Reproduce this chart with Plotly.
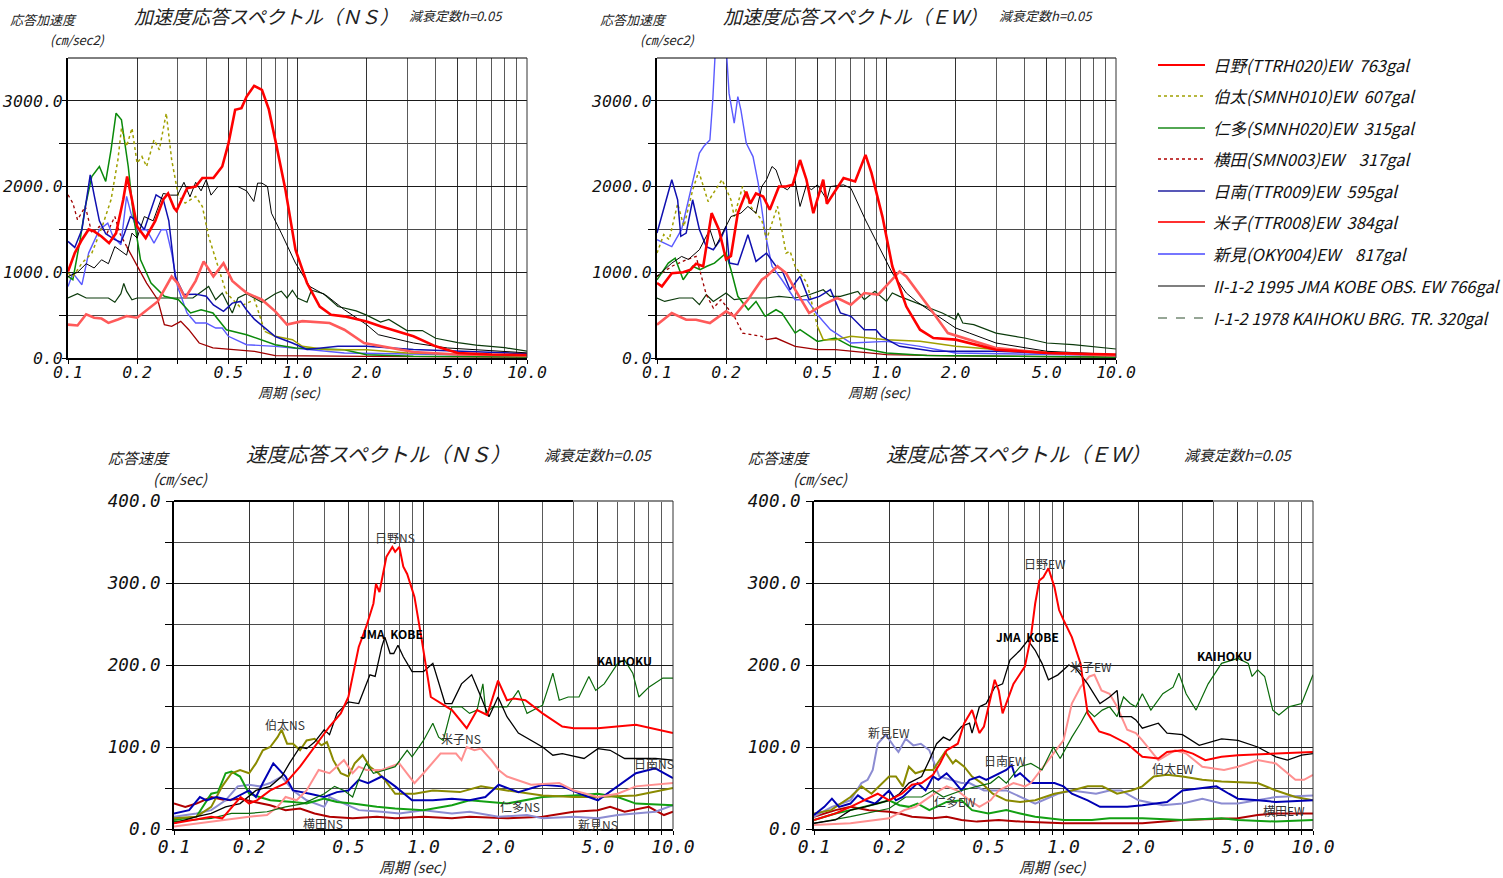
import math
import plotly.graph_objects as go

# ---------------------------------------------------------------------------
# Response spectra (h = 0.05).  Period T [sec] and response values.
# ---------------------------------------------------------------------------

# ---- Acceleration response spectra, NS (cm/sec2) ----
hino_ns_acc_T = [0.1, 0.107, 0.115, 0.123, 0.13, 0.14, 0.151, 0.162, 0.174, 0.181, 0.19, 0.2, 0.218, 0.24, 0.26, 0.273, 0.29, 0.297, 0.33, 0.36, 0.385, 0.43, 0.47, 0.5, 0.535, 0.57, 0.6, 0.647, 0.7, 0.75, 0.8, 0.85, 0.886, 0.98, 1.1, 1.25, 1.4, 1.6, 2.0, 2.3, 3.2, 4.0, 5.0, 7.0, 10]
hino_ns_acc = [1010, 1224, 1380, 1500, 1477, 1418, 1340, 1457, 1846, 2118, 1846, 1535, 1400, 1600, 1850, 1920, 1750, 1717, 1980, 2000, 2100, 2100, 2234, 2500, 2895, 2915, 3050, 3175, 3128, 2900, 2545, 2200, 1962, 1263, 875, 600, 505, 486, 427, 370, 253, 136, 58, 40, 35]
hakuta_ns_acc_T = [0.1, 0.105, 0.115, 0.127, 0.141, 0.154, 0.165, 0.171, 0.18, 0.19, 0.2, 0.21, 0.22, 0.237, 0.25, 0.268, 0.283, 0.303, 0.324, 0.36, 0.385, 0.41, 0.46, 0.49, 0.56, 0.65, 0.72, 0.8, 0.95, 1.05, 1.35, 2.0, 3.0, 10]
hakuta_ns_acc = [990, 950, 1107, 1224, 1535, 1846, 2312, 2680, 2468, 2680, 2273, 2350, 2234, 2545, 2429, 2856, 2312, 1885, 1807, 1885, 1768, 1418, 990, 758, 600, 680, 310, 253, 214, 136, 97, 97, 58, 27]
nita_ns_acc_T = [0.1, 0.105, 0.113, 0.119, 0.127, 0.137, 0.146, 0.154, 0.162, 0.171, 0.183, 0.193, 0.207, 0.23, 0.263, 0.303, 0.342, 0.38, 0.428, 0.49, 0.6, 0.8, 0.98, 1.6, 2.0, 3.2, 10]
nita_ns_acc = [952, 913, 1380, 1768, 2118, 2234, 2060, 2429, 2856, 2778, 2234, 1652, 1146, 874, 720, 680, 525, 563, 525, 330, 272, 155, 117, 97, 39, 20, 12]
yokota_ns_acc_T = [0.1, 0.105, 0.11, 0.119, 0.127, 0.137, 0.148, 0.16, 0.168, 0.18, 0.2, 0.22, 0.246, 0.263, 0.283, 0.31, 0.336, 0.373, 0.428, 0.53, 0.65, 0.8, 1.0, 2.0, 10]
yokota_ns_acc = [1904, 1807, 1613, 1768, 1457, 1535, 1457, 1651, 1457, 1302, 1068, 874, 680, 389, 369, 427, 330, 175, 117, 97, 78, 27, 27, 20, 10]
nichinan_ns_acc_T = [0.1, 0.107, 0.115, 0.125, 0.13, 0.137, 0.146, 0.16, 0.17, 0.176, 0.187, 0.2, 0.215, 0.228, 0.242, 0.26, 0.275, 0.293, 0.32, 0.36, 0.4, 0.43, 0.476, 0.52, 0.565, 0.6, 0.65, 0.8, 0.95, 1.1, 1.5, 2.0, 3.2, 10]
nichinan_ns_acc = [1360, 1290, 1500, 2137, 1900, 1600, 1450, 1380, 1350, 1450, 1650, 1600, 1500, 1700, 1904, 1850, 1600, 950, 740, 745, 720, 620, 545, 640, 660, 560, 450, 250, 175, 100, 136, 136, 100, 50]
yonago_ns_acc_T = [0.1, 0.11, 0.12, 0.13, 0.14, 0.15, 0.165, 0.18, 0.2, 0.22, 0.246, 0.283, 0.3, 0.324, 0.36, 0.39, 0.43, 0.476, 0.52, 0.565, 0.6, 0.7, 0.8, 0.9, 1.05, 1.38, 1.6, 1.95, 2.5, 3.2, 5.0, 10]
yonago_ns_acc = [390, 380, 510, 470, 460, 410, 450, 490, 470, 560, 660, 950, 874, 700, 900, 1127, 950, 1107, 900, 816, 760, 680, 544, 390, 430, 408, 330, 175, 120, 70, 40, 30]
niimi_ns_acc_T = [0.1, 0.105, 0.115, 0.123, 0.137, 0.149, 0.157, 0.17, 0.18, 0.188, 0.2, 0.22, 0.237, 0.255, 0.268, 0.283, 0.3, 0.33, 0.36, 0.4, 0.44, 0.47, 0.5, 0.6, 0.8, 1.1, 1.6, 10]
niimi_ns_acc = [835, 990, 855, 1224, 1496, 1574, 1418, 1321, 1885, 1690, 1496, 1496, 1340, 1496, 1496, 1224, 835, 525, 408, 408, 350, 350, 253, 155, 136, 97, 58, 27]
jma_ns_acc_T = [0.1, 0.11, 0.12, 0.13, 0.14, 0.15, 0.16, 0.17, 0.18, 0.19, 0.2, 0.215, 0.235, 0.26, 0.28, 0.3, 0.32, 0.34, 0.36, 0.38, 0.4, 0.42, 0.45, 0.5, 0.55, 0.6, 0.645, 0.67, 0.7, 0.74, 0.77, 0.85, 0.98, 1.13, 1.35, 1.6, 2.0, 2.25, 3.2, 4.5, 10]
jma_ns_acc = [950, 1000, 1100, 1050, 1146, 1100, 1300, 1250, 1200, 1457, 1400, 1650, 1600, 1920, 1900, 1900, 2050, 1880, 2050, 1950, 2080, 1900, 2000, 2000, 2000, 1950, 1826, 2040, 2040, 2000, 1690, 1457, 1107, 835, 720, 563, 389, 272, 175, 117, 60]
kaihoku_ns_acc_T = [0.1, 0.11, 0.12, 0.135, 0.15, 0.16, 0.17, 0.175, 0.18, 0.19, 0.2, 0.25, 0.3, 0.35, 0.41, 0.44, 0.47, 0.52, 0.55, 0.6, 0.7, 0.8, 0.85, 0.9, 0.95, 1.0, 1.1, 1.15, 1.3, 1.5, 1.8, 2.0, 2.3, 2.5, 3.0, 3.5, 4.0, 5.0, 6.0, 8.0, 10]
kaihoku_ns_acc = [700, 750, 700, 700, 700, 650, 750, 870, 780, 680, 700, 700, 700, 700, 835, 680, 758, 525, 700, 750, 650, 750, 780, 700, 790, 700, 650, 790, 750, 600, 550, 500, 420, 450, 320, 320, 230, 180, 150, 120, 80]

# ---- Acceleration response spectra, EW (cm/sec2) ----
hino_ew_acc_T = [0.1, 0.105, 0.116, 0.13, 0.14, 0.148, 0.159, 0.173, 0.186, 0.2, 0.21, 0.225, 0.245, 0.255, 0.27, 0.29, 0.31, 0.34, 0.365, 0.39, 0.42, 0.448, 0.48, 0.53, 0.55, 0.61, 0.65, 0.73, 0.81, 0.86, 0.96, 1.06, 1.22, 1.4, 1.6, 2.0, 3.0, 5.0, 10]
hino_ew_acc = [875, 835, 990, 1000, 1030, 1100, 1070, 1690, 1500, 1150, 1190, 1690, 1940, 1800, 1920, 1885, 1730, 2000, 2000, 2020, 2310, 2080, 1690, 2080, 1800, 1980, 2100, 2060, 2370, 2160, 1650, 1070, 600, 330, 233, 214, 97, 58, 40]
hakuta_ew_acc_T = [0.1, 0.107, 0.113, 0.123, 0.131, 0.143, 0.152, 0.167, 0.192, 0.21, 0.217, 0.236, 0.255, 0.286, 0.3, 0.335, 0.365, 0.38, 0.4, 0.45, 0.5, 0.53, 0.6, 0.7, 1.0, 1.4, 2.0, 3.0, 10]
hakuta_ew_acc = [1224, 1440, 1380, 1800, 1535, 1960, 2176, 1826, 2080, 1846, 1650, 2000, 1770, 1610, 1380, 1770, 1224, 1245, 1070, 875, 370, 214, 214, 253, 214, 195, 136, 100, 30]
nita_ew_acc_T = [0.1, 0.112, 0.12, 0.13, 0.143, 0.154, 0.165, 0.178, 0.2, 0.21, 0.225, 0.25, 0.27, 0.296, 0.33, 0.35, 0.4, 0.42, 0.5, 0.6, 0.7, 1.0, 1.5, 10]
nita_ew_acc = [913, 1107, 1165, 913, 1070, 1030, 1070, 1107, 1224, 1030, 720, 563, 660, 486, 563, 525, 291, 330, 194, 233, 136, 58, 30, 10]
yokota_ew_acc_T = [0.1, 0.116, 0.134, 0.148, 0.164, 0.176, 0.19, 0.217, 0.236, 0.286, 0.3, 0.33, 0.4, 0.5, 0.6, 1.0, 2.0, 10]
yokota_ew_acc = [952, 1070, 1146, 1185, 738, 583, 680, 486, 291, 253, 214, 233, 136, 97, 97, 39, 25, 10]
nichinan_ew_acc_T = [0.1, 0.108, 0.116, 0.123, 0.127, 0.134, 0.143, 0.153, 0.164, 0.176, 0.189, 0.2, 0.207, 0.225, 0.249, 0.27, 0.3, 0.33, 0.35, 0.38, 0.42, 0.46, 0.51, 0.57, 0.63, 0.7, 0.8, 0.9, 0.95, 1.14, 1.6, 3.0, 10]
nichinan_ew_acc = [1457, 1770, 2080, 1846, 1420, 1457, 1846, 1500, 1300, 1263, 1380, 1535, 1107, 1088, 1438, 1127, 1224, 1070, 1030, 797, 952, 680, 719, 797, 525, 486, 330, 330, 253, 136, 78, 78, 30]
yonago_ew_acc_T = [0.1, 0.116, 0.134, 0.148, 0.17, 0.2, 0.217, 0.249, 0.286, 0.3, 0.335, 0.365, 0.4, 0.46, 0.53, 0.61, 0.7, 0.8, 0.92, 1.03, 1.14, 1.22, 1.35, 1.6, 1.85, 2.3, 3.0, 5.0, 10]
yonago_ew_acc = [389, 525, 447, 447, 408, 544, 486, 680, 913, 952, 1070, 990, 797, 525, 622, 700, 622, 758, 738, 875, 1010, 952, 797, 525, 291, 214, 117, 58, 30]
niimi_ew_acc_T = [0.1, 0.116, 0.128, 0.143, 0.153, 0.16, 0.17, 0.175, 0.18, 0.2, 0.206, 0.217, 0.225, 0.232, 0.245, 0.262, 0.276, 0.296, 0.317, 0.35, 0.4, 0.45, 0.5, 0.57, 0.7, 1.0, 1.4, 2.0, 10]
niimi_ew_acc = [1380, 1300, 1500, 2040, 2390, 2470, 2545, 3010, 3650, 3650, 3090, 2740, 3050, 2895, 2506, 2350, 2040, 1457, 1070, 913, 680, 680, 505, 330, 175, 194, 136, 58, 30]
jma_ew_acc_T = [0.1, 0.116, 0.128, 0.137, 0.153, 0.17, 0.18, 0.2, 0.21, 0.232, 0.249, 0.27, 0.286, 0.3, 0.317, 0.33, 0.35, 0.37, 0.4, 0.42, 0.448, 0.47, 0.5, 0.55, 0.57, 0.65, 0.7, 0.81, 0.96, 1.06, 1.22, 1.35, 1.6, 2.0, 2.3, 3.0, 5.0, 10]
jma_ew_acc = [952, 1107, 1185, 1150, 1263, 1500, 1300, 1535, 1650, 1690, 1768, 1690, 2000, 2080, 2234, 2195, 2000, 1962, 2060, 1768, 2020, 1962, 2020, 1846, 2000, 2020, 1980, 1610, 1224, 990, 758, 660, 525, 350, 290, 175, 78, 40]
kaihoku_ew_acc_T = [0.1, 0.108, 0.125, 0.143, 0.153, 0.164, 0.176, 0.2, 0.217, 0.249, 0.3, 0.34, 0.4, 0.46, 0.53, 0.57, 0.63, 0.75, 0.8, 0.89, 1.0, 1.06, 1.14, 1.3, 1.5, 1.75, 2.0, 2.05, 2.15, 2.4, 3.0, 4.0, 5.0, 6.5, 10]
kaihoku_ew_acc = [700, 660, 700, 700, 622, 738, 660, 758, 680, 700, 700, 719, 700, 738, 797, 719, 719, 777, 680, 777, 660, 758, 719, 660, 602, 525, 447, 525, 408, 389, 291, 233, 175, 155, 105]

# ---- Velocity response spectra, NS (cm/sec) ----
hino_ns_vel_T = [0.1, 0.141, 0.156, 0.185, 0.2, 0.215, 0.243, 0.28, 0.32, 0.366, 0.42, 0.466, 0.5, 0.55, 0.59, 0.63, 0.645, 0.666, 0.71, 0.75, 0.77, 0.8, 0.83, 0.86, 0.92, 0.98, 1.07, 1.3, 1.49, 1.64, 1.8, 1.99, 2.16, 2.3, 2.56, 3.0, 3.6, 4.0, 5.0, 7.1, 10]
hino_ns_vel = [7, 15, 13, 39, 31, 35, 47, 56, 76, 100, 125, 141, 161, 222, 247, 275, 299, 289, 332, 344, 338, 344, 320, 311, 283, 234, 161, 145, 123, 145, 139, 181, 157, 159, 157, 141, 125, 123, 123, 127, 117]
hakuta_ns_vel_T = [0.1, 0.123, 0.141, 0.156, 0.17, 0.184, 0.2, 0.213, 0.227, 0.243, 0.26, 0.27, 0.284, 0.3, 0.32, 0.34, 0.366, 0.39, 0.41, 0.435, 0.466, 0.5, 0.53, 0.57, 0.61, 0.66, 0.7, 0.77, 0.92, 1.09, 1.4, 1.7, 2.16, 3.0, 4.0, 5.0, 7.1, 10]
hakuta_ns_vel = [13, 15, 27, 52, 68, 72, 68, 80, 96, 100, 112, 121, 104, 104, 96, 108, 110, 102, 106, 84, 68, 64, 80, 90, 76, 68, 60, 43, 43, 47, 45, 52, 47, 41, 39, 39, 41, 50]
nita_ns_vel_T = [0.1, 0.123, 0.141, 0.15, 0.161, 0.17, 0.184, 0.2, 0.22, 0.243, 0.3, 0.34, 0.4, 0.45, 0.52, 0.65, 0.77, 1.0, 1.3, 1.53, 2.16, 3.0, 4.0, 5.0, 6.0, 7.1, 10]
nita_ns_vel = [11, 15, 43, 45, 68, 70, 64, 43, 39, 35, 33, 31, 37, 33, 31, 27, 25, 23, 29, 35, 31, 39, 41, 43, 39, 31, 29]
yokota_ns_vel_T = [0.1, 0.111, 0.123, 0.141, 0.161, 0.184, 0.21, 0.243, 0.28, 0.32, 0.366, 0.42, 0.52, 0.65, 0.77, 1.0, 1.3, 1.53, 2.16, 3.0, 4.0, 5.0, 5.6, 6.4, 8.0, 9.2, 10]
yokota_ns_vel = [31, 27, 31, 39, 35, 37, 33, 29, 23, 25, 19, 15, 13, 15, 13, 15, 13, 15, 13, 15, 21, 23, 27, 21, 27, 17, 21]
nichinan_ns_vel_T = [0.1, 0.115, 0.127, 0.135, 0.148, 0.168, 0.2, 0.213, 0.227, 0.25, 0.28, 0.3, 0.35, 0.4, 0.45, 0.5, 0.55, 0.6, 0.68, 0.77, 0.9, 1.09, 1.3, 1.53, 1.77, 2.0, 2.4, 3.0, 3.6, 4.4, 5.0, 6.0, 7.1, 8.5, 10]
nichinan_ns_vel = [19, 23, 39, 35, 39, 35, 47, 39, 56, 80, 64, 47, 43, 39, 45, 47, 60, 56, 64, 52, 35, 35, 37, 35, 39, 54, 45, 54, 52, 41, 35, 52, 68, 74, 62]
yonago_ns_vel_T = [0.1, 0.141, 0.2, 0.236, 0.26, 0.28, 0.31, 0.34, 0.38, 0.42, 0.45, 0.48, 0.52, 0.55, 0.59, 0.68, 0.8, 0.92, 1.0, 1.17, 1.35, 1.42, 1.49, 1.6, 1.7, 1.87, 2.0, 2.16, 2.7, 3.5, 4.0, 5.0, 6.0, 7.1, 10]
yonago_ns_vel = [3, 9, 15, 17, 27, 39, 35, 47, 72, 68, 76, 84, 68, 76, 72, 72, 80, 56, 68, 92, 92, 84, 100, 96, 98, 84, 72, 64, 54, 56, 47, 39, 43, 52, 56]
niimi_ns_vel_T = [0.1, 0.123, 0.141, 0.161, 0.18, 0.2, 0.22, 0.243, 0.27, 0.3, 0.34, 0.4, 0.42, 0.48, 0.55, 0.68, 0.8, 1.0, 1.3, 1.53, 2.0, 2.6, 3.0, 4.0, 5.0, 6.0, 8.5, 10]
niimi_ns_vel = [15, 19, 23, 35, 52, 54, 52, 56, 64, 47, 35, 27, 39, 31, 23, 21, 19, 23, 19, 21, 15, 17, 13, 15, 13, 17, 21, 29]
jma_ns_vel_T = [0.1, 0.123, 0.141, 0.161, 0.184, 0.213, 0.243, 0.27, 0.29, 0.32, 0.34, 0.366, 0.4, 0.42, 0.45, 0.5, 0.55, 0.61, 0.64, 0.68, 0.7, 0.735, 0.76, 0.79, 0.83, 0.9, 1.0, 1.09, 1.22, 1.3, 1.42, 1.56, 1.7, 1.83, 1.99, 2.16, 2.4, 3.0, 3.3, 3.6, 4.4, 5.0, 5.6, 6.4, 8.5, 10]
jma_ns_vel = [7, 15, 19, 27, 31, 47, 52, 64, 80, 100, 98, 106, 121, 115, 141, 155, 153, 188, 186, 222, 234, 214, 214, 224, 210, 192, 192, 202, 153, 153, 177, 188, 161, 137, 161, 137, 117, 100, 90, 92, 86, 98, 96, 86, 86, 84]
kaihoku_ns_vel_T = [0.1, 0.141, 0.17, 0.2, 0.236, 0.28, 0.33, 0.4, 0.44, 0.48, 0.52, 0.55, 0.59, 0.63, 0.7, 0.77, 0.86, 0.9, 1.0, 1.09, 1.15, 1.2, 1.3, 1.42, 1.53, 1.64, 1.73, 1.78, 1.9, 2.16, 2.4, 2.6, 3.0, 3.3, 3.5, 3.8, 4.2, 4.6, 4.9, 5.3, 6.0, 6.4, 6.9, 7.3, 8.0, 9.1, 10]
kaihoku_ns_vel = [9, 13, 19, 19, 21, 27, 31, 43, 52, 47, 39, 60, 80, 68, 72, 76, 96, 88, 108, 129, 112, 108, 149, 149, 141, 145, 177, 141, 149, 149, 169, 141, 151, 190, 157, 161, 161, 186, 169, 177, 202, 206, 190, 161, 173, 184, 184]

# ---- Velocity response spectra, EW (cm/sec) ----
hino_ew_vel_T = [0.1, 0.122, 0.14, 0.16, 0.18, 0.2, 0.225, 0.247, 0.27, 0.3, 0.32, 0.34, 0.377, 0.4, 0.43, 0.46, 0.48, 0.53, 0.55, 0.57, 0.63, 0.7, 0.74, 0.77, 0.8, 0.83, 0.87, 0.92, 0.96, 1.0, 1.08, 1.17, 1.25, 1.39, 1.53, 1.8, 2.07, 2.4, 2.6, 3.0, 3.3, 3.7, 4.3, 5.0, 7.1, 10]
hino_ew_vel = [11, 19, 27, 35, 43, 35, 43, 54, 56, 66, 80, 96, 104, 129, 145, 117, 125, 182, 169, 141, 177, 198, 234, 275, 303, 307, 318, 295, 267, 255, 234, 202, 141, 119, 115, 104, 88, 86, 94, 96, 92, 84, 88, 90, 92, 94]
hakuta_ew_vel_T = [0.1, 0.117, 0.14, 0.155, 0.17, 0.2, 0.213, 0.227, 0.24, 0.255, 0.28, 0.3, 0.335, 0.36, 0.37, 0.4, 0.43, 0.47, 0.52, 0.59, 0.67, 0.77, 0.92, 1.08, 1.25, 1.43, 1.64, 1.87, 2.07, 2.3, 2.6, 3.0, 3.6, 4.3, 6.0, 7.1, 8.5, 10]
hakuta_ew_vel = [19, 23, 39, 52, 43, 64, 64, 52, 76, 68, 72, 72, 94, 80, 84, 76, 64, 56, 43, 35, 33, 35, 43, 47, 52, 52, 43, 47, 52, 64, 66, 64, 60, 58, 56, 47, 39, 35]
nita_ew_vel_T = [0.1, 0.122, 0.14, 0.16, 0.18, 0.2, 0.22, 0.24, 0.26, 0.29, 0.34, 0.39, 0.43, 0.5, 0.59, 0.67, 0.77, 1.0, 1.3, 1.53, 2.07, 3.0, 4.3, 5.0, 7.1, 10]
nita_ew_vel = [11, 19, 23, 27, 31, 35, 29, 27, 31, 23, 33, 35, 23, 19, 23, 19, 15, 11, 11, 13, 13, 11, 13, 11, 9, 11]
yokota_ew_vel_T = [0.1, 0.122, 0.14, 0.166, 0.2, 0.22, 0.247, 0.3, 0.34, 0.39, 0.45, 0.55, 0.67, 1.0, 1.53, 2.07, 3.0, 4.3, 5.0, 6.0, 7.1, 10]
yokota_ew_vel = [15, 23, 27, 23, 21, 19, 15, 13, 15, 11, 9, 11, 9, 7, 7, 7, 11, 13, 13, 17, 19, 19]
nichinan_ew_vel_T = [0.1, 0.11, 0.118, 0.126, 0.14, 0.15, 0.16, 0.176, 0.2, 0.213, 0.227, 0.26, 0.28, 0.3, 0.315, 0.34, 0.36, 0.39, 0.42, 0.46, 0.49, 0.55, 0.59, 0.62, 0.64, 0.67, 0.74, 0.92, 1.0, 1.08, 1.25, 1.4, 1.8, 2.07, 2.6, 3.0, 3.6, 4.1, 4.6, 5.0, 6.0, 7.1, 10]
nichinan_ew_vel = [17, 27, 37, 27, 31, 41, 35, 31, 47, 35, 39, 56, 47, 64, 60, 68, 60, 47, 60, 64, 60, 68, 72, 78, 64, 68, 56, 56, 52, 43, 35, 27, 27, 29, 33, 47, 50, 52, 43, 37, 35, 33, 35]
yonago_ew_vel_T = [0.1, 0.14, 0.2, 0.23, 0.255, 0.29, 0.31, 0.34, 0.375, 0.42, 0.46, 0.51, 0.55, 0.63, 0.7, 0.74, 0.83, 0.91, 1.0, 1.08, 1.17, 1.27, 1.33, 1.42, 1.53, 1.64, 1.8, 1.95, 2.07, 2.4, 2.8, 3.1, 3.6, 4.4, 5.0, 6.0, 7.1, 8.5, 9.2, 10]
yonago_ew_vel = [5, 7, 13, 23, 27, 39, 45, 52, 47, 35, 27, 35, 47, 56, 52, 56, 76, 92, 108, 153, 173, 186, 188, 169, 165, 149, 121, 117, 108, 84, 96, 92, 76, 72, 76, 84, 80, 60, 60, 66]
niimi_ew_vel_T = [0.1, 0.118, 0.14, 0.155, 0.164, 0.172, 0.18, 0.194, 0.21, 0.218, 0.233, 0.25, 0.268, 0.29, 0.318, 0.35, 0.39, 0.42, 0.48, 0.59, 0.67, 0.77, 0.95, 1.08, 1.35, 1.53, 1.7, 2.0, 2.5, 3.0, 3.6, 4.3, 5.0, 6.0, 7.1, 10]
niimi_ew_vel = [15, 27, 35, 56, 60, 72, 104, 115, 100, 94, 110, 102, 104, 96, 64, 60, 56, 56, 47, 47, 39, 31, 43, 47, 43, 47, 47, 35, 29, 31, 37, 31, 31, 35, 39, 41]
jma_ew_vel_T = [0.1, 0.122, 0.14, 0.16, 0.2, 0.22, 0.24, 0.27, 0.29, 0.31, 0.33, 0.35, 0.39, 0.42, 0.43, 0.46, 0.49, 0.53, 0.57, 0.61, 0.67, 0.72, 0.77, 0.82, 0.87, 0.95, 1.05, 1.12, 1.25, 1.4, 1.53, 1.64, 1.68, 1.87, 1.95, 2.07, 2.4, 2.6, 3.0, 3.5, 4.3, 5.0, 6.0, 7.1, 7.9, 9.0, 10]
jma_ew_vel = [7, 11, 23, 27, 35, 43, 56, 64, 84, 104, 112, 108, 125, 129, 117, 149, 153, 173, 177, 206, 218, 230, 218, 202, 182, 188, 200, 196, 177, 153, 161, 169, 137, 137, 133, 123, 129, 117, 115, 102, 110, 108, 100, 88, 84, 90, 92]
kaihoku_ew_vel_T = [0.1, 0.14, 0.2, 0.233, 0.27, 0.3, 0.33, 0.39, 0.45, 0.51, 0.55, 0.59, 0.67, 0.74, 0.82, 0.91, 0.97, 1.08, 1.17, 1.25, 1.33, 1.43, 1.53, 1.64, 1.74, 1.85, 1.95, 2.07, 2.24, 2.5, 2.75, 2.9, 3.1, 3.4, 3.8, 4.3, 5.0, 5.5, 5.7, 6.0, 6.4, 6.9, 7.3, 8.0, 9.0, 10]
kaihoku_ew_vel = [7, 15, 25, 39, 39, 47, 39, 47, 52, 56, 64, 56, 76, 80, 72, 100, 86, 112, 129, 145, 137, 145, 149, 137, 161, 153, 149, 165, 145, 165, 173, 190, 165, 145, 177, 202, 208, 202, 186, 194, 186, 145, 139, 149, 153, 188]

# ---- Axis ticks ----
period_ticks = [0.1, 0.2, 0.5, 1, 2, 5, 10]
period_labels = ["0.1", "0.2", "0.5", "1.0", "2.0", "5.0", "10.0"]
period_minor = [0.3, 0.4, 0.6, 0.7, 0.8, 0.9, 3, 4, 6, 7, 8, 9]
acc_ticks = [0, 1000, 2000, 3000]
acc_labels = ["0.0", "1000.0", "2000.0", "3000.0"]
acc_minor = [500, 1500, 2500]
vel_ticks = [0, 100, 200, 300, 400]
vel_labels = ["0.0", "100.0", "200.0", "300.0", "400.0"]
vel_minor = [50, 150, 250, 350]

legend_labels = [
    "日野(TTRH020)EW  763gal",
    "伯太(SMNH010)EW  607gal",
    "仁多(SMNH020)EW  315gal",
    "横田(SMN003)EW    317gal",
    "日南(TTR009)EW  595gal",
    "米子(TTR008)EW  384gal",
    "新見(OKY004)EW    817gal",
    "II-1-2 1995 JMA KOBE OBS. EW 766gal",
    "I-1-2 1978 KAIHOKU BRG. TR. 320gal",
]

# ---------------------------------------------------------------------------
W, H = 1503, 878


def px(x):
    return x / W


def py(y):
    return 1 - y / H


CJK = "Noto Sans CJK JP"
NUM = "DejaVu Sans Mono"

fig = go.Figure()


def add_line(T, V, xa, ya, color, width, dash="solid", dot_until=None):
    """Draw one spectrum; optionally the short-period part dotted."""
    if dot_until is None:
        fig.add_trace(go.Scatter(x=T, y=V, xaxis=xa, yaxis=ya, mode="lines",
                                 line=dict(color=color, width=width, dash=dash),
                                 hoverinfo="skip", showlegend=False))
        return
    k = max(i for i, t in enumerate(T) if t <= dot_until)
    fig.add_trace(go.Scatter(x=T[:k + 1], y=V[:k + 1], xaxis=xa, yaxis=ya, mode="lines",
                             line=dict(color=color, width=width, dash="dot"),
                             hoverinfo="skip", showlegend=False))
    fig.add_trace(go.Scatter(x=T[k:], y=V[k:], xaxis=xa, yaxis=ya, mode="lines",
                             line=dict(color=color, width=width),
                             hoverinfo="skip", showlegend=False))


# Top-left: acceleration NS
xa, ya = "x", "y"
add_line(kaihoku_ns_acc_T, kaihoku_ns_acc, xa, ya, "#0b3a0b", 1.2)
add_line(yokota_ns_acc_T, yokota_ns_acc, xa, ya, "#a00000", 1.3, dot_until=0.18)
add_line(niimi_ns_acc_T, niimi_ns_acc, xa, ya, "#5a5aff", 1.4)
add_line(nita_ns_acc_T, nita_ns_acc, xa, ya, "#0a8a0a", 1.5)
add_line(hakuta_ns_acc_T, hakuta_ns_acc, xa, ya, "#a0a000", 1.5, dot_until=0.72)
add_line(nichinan_ns_acc_T, nichinan_ns_acc, xa, ya, "#1010b0", 1.5)
add_line(jma_ns_acc_T, jma_ns_acc, xa, ya, "#000000", 1.0)
add_line(yonago_ns_acc_T, yonago_ns_acc, xa, ya, "#ff5a5a", 2.6)
add_line(hino_ns_acc_T, hino_ns_acc, xa, ya, "#ff0000", 2.6)

# Top-right: acceleration EW
xa, ya = "x2", "y2"
add_line(kaihoku_ew_acc_T, kaihoku_ew_acc, xa, ya, "#0b3a0b", 1.2)
add_line(yokota_ew_acc_T, yokota_ew_acc, xa, ya, "#a00000", 1.3, dot_until=0.3)
add_line(niimi_ew_acc_T, niimi_ew_acc, xa, ya, "#5a5aff", 1.4)
add_line(nita_ew_acc_T, nita_ew_acc, xa, ya, "#0a8a0a", 1.5)
add_line(hakuta_ew_acc_T, hakuta_ew_acc, xa, ya, "#a0a000", 1.5, dot_until=0.5)
add_line(nichinan_ew_acc_T, nichinan_ew_acc, xa, ya, "#1010b0", 1.5)
add_line(jma_ew_acc_T, jma_ew_acc, xa, ya, "#000000", 1.0)
add_line(yonago_ew_acc_T, yonago_ew_acc, xa, ya, "#ff5a5a", 2.6)
add_line(hino_ew_acc_T, hino_ew_acc, xa, ya, "#ff0000", 2.6)

# Bottom-left: velocity NS
xa, ya = "x3", "y3"
add_line(yokota_ns_vel_T, yokota_ns_vel, xa, ya, "#b00000", 2.0)
add_line(niimi_ns_vel_T, niimi_ns_vel, xa, ya, "#8c8cd2", 2.0)
add_line(nita_ns_vel_T, nita_ns_vel, xa, ya, "#12a012", 2.0)
add_line(hakuta_ns_vel_T, hakuta_ns_vel, xa, ya, "#8a8a00", 2.0)
add_line(nichinan_ns_vel_T, nichinan_ns_vel, xa, ya, "#0000b4", 2.0)
add_line(yonago_ns_vel_T, yonago_ns_vel, xa, ya, "#ff9090", 2.0)
add_line(kaihoku_ns_vel_T, kaihoku_ns_vel, xa, ya, "#0a6a0a", 1.2)
add_line(jma_ns_vel_T, jma_ns_vel, xa, ya, "#000000", 1.3)
add_line(hino_ns_vel_T, hino_ns_vel, xa, ya, "#ff0000", 2.0)

# Bottom-right: velocity EW
xa, ya = "x4", "y4"
add_line(yokota_ew_vel_T, yokota_ew_vel, xa, ya, "#b00000", 2.0)
add_line(niimi_ew_vel_T, niimi_ew_vel, xa, ya, "#8c8cd2", 2.0)
add_line(nita_ew_vel_T, nita_ew_vel, xa, ya, "#12a012", 2.0)
add_line(hakuta_ew_vel_T, hakuta_ew_vel, xa, ya, "#8a8a00", 2.0)
add_line(nichinan_ew_vel_T, nichinan_ew_vel, xa, ya, "#0000b4", 2.0)
add_line(yonago_ew_vel_T, yonago_ew_vel, xa, ya, "#ff9090", 2.0)
add_line(kaihoku_ew_vel_T, kaihoku_ew_vel, xa, ya, "#0a6a0a", 1.2)
add_line(jma_ew_vel_T, jma_ew_vel, xa, ya, "#000000", 1.3)
add_line(hino_ew_vel_T, hino_ew_vel, xa, ya, "#ff0000", 2.0)


# ---------------------------------------------------------------------------
def num_font(size):
    return dict(family=NUM, size=size, color="#111111", style="italic")


def period_axis(x0, x1, anchor, size, standoff):
    return dict(type="log", range=[-1, 1], domain=[px(x0), px(x1)], anchor=anchor,
                automargin=False,
                tickmode="array", tickvals=period_ticks, ticktext=period_labels,
                showgrid=True, gridcolor="#333333", gridwidth=1,
                minor=dict(tickmode="array", tickvals=period_minor, showgrid=True,
                           gridcolor="#5a5a5a", gridwidth=1, ticks="outside",
                           ticklen=4, tickcolor="black"),
                ticks="outside", ticklen=4, tickcolor="black",
                showline=True, linecolor="black", linewidth=2, zeroline=False,
                tickfont=num_font(size), ticklabelstandoff=standoff, fixedrange=True)


def value_axis(y0, y1, anchor, top, ticks, labels, minor, size, ticklen, standoff):
    return dict(range=[0, top], domain=[py(y1), py(y0)], anchor=anchor,
                automargin=False,
                tickmode="array", tickvals=ticks, ticktext=labels,
                showgrid=True, gridcolor="#1a1a1a", gridwidth=1,
                minor=dict(tickmode="array", tickvals=minor, showgrid=True,
                           gridcolor="#4a4a4a", gridwidth=1, ticks="outside",
                           ticklen=7, tickcolor="black"),
                ticks="outside", ticklen=ticklen, tickcolor="black",
                showline=True, linecolor="black", linewidth=2, zeroline=False,
                tickfont=num_font(size), ticklabelstandoff=standoff, fixedrange=True)


fig.update_layout(
    width=W, height=H, autosize=False,
    margin=dict(l=0, r=0, t=0, b=0, autoexpand=False),
    paper_bgcolor="white", plot_bgcolor="white",
    showlegend=False,
    xaxis=period_axis(68, 527, "y", 16.5, -6),
    yaxis=value_axis(58, 358, "x", 3500, acc_ticks, acc_labels, acc_minor, 16.5, 4, -4),
    xaxis2=period_axis(657, 1116, "y2", 16.5, -6),
    yaxis2=value_axis(58, 358, "x2", 3500, acc_ticks, acc_labels, acc_minor, 16.5, 4, -4),
    xaxis3=period_axis(174, 673, "y3", 18, -4),
    yaxis3=value_axis(501, 829, "x3", 400, vel_ticks, vel_labels, vel_minor, 17.5, 6, 2),
    xaxis4=period_axis(814, 1313, "y4", 18, -4),
    yaxis4=value_axis(501, 829, "x4", 400, vel_ticks, vel_labels, vel_minor, 17.5, 6, 2),
)

# Frame lines (top and right edges of each plot area)
shapes = []
for xa, ya, split in [("x", "y", None), ("x2", "y2", None), ("x3", "y3", 0.8), ("x4", "y4", 0.8)]:
    xr, yr = f"{xa} domain", f"{ya} domain"
    if split is None:
        shapes.append(dict(type="line", xref=xr, yref=yr, x0=0, x1=1, y0=1, y1=1,
                           line=dict(color="black", width=1)))
    else:
        shapes.append(dict(type="line", xref=xr, yref=yr, x0=0, x1=split, y0=1, y1=1,
                           line=dict(color="black", width=2)))
        shapes.append(dict(type="line", xref=xr, yref=yr, x0=split, x1=1, y0=1, y1=1,
                           line=dict(color="#888888", width=2)))
    shapes.append(dict(type="line", xref=xr, yref=yr, x0=1, x1=1, y0=0, y1=1,
                       line=dict(color="#333333", width=1)))

# Legend samples
legend_styles = [
    ("#ff0000", "solid", 2), ("#a0a000", "dot", 1.5), ("#1a8a1a", "solid", 1.5),
    ("#b00000", "dot", 1.5), ("#2020a0", "solid", 1.5), ("#ff3030", "solid", 2),
    ("#4848ff", "solid", 1.5), ("#555555", "solid", 1.5), ("#2f4f2f", "dash", 1.2),
]
legend_y = [65, 96, 128, 159, 191, 222, 254, 286, 318]
annotations = []
for (col, dash, w), yy, label in zip(legend_styles, legend_y, legend_labels):
    shapes.append(dict(type="line", xref="paper", yref="paper",
                       x0=px(1158), x1=px(1205), y0=py(yy), y1=py(yy),
                       line=dict(color=col, width=w, dash=dash)))
    annotations.append(dict(xref="paper", yref="paper", x=px(1211), y=py(yy),
                            xanchor="left", yanchor="middle", showarrow=False,
                            text=label,
                            font=dict(family=CJK, size=16.5, color="#111111", style="italic")))
fig.update_layout(shapes=shapes)


def text(x, y, s, size, anchor="left", style="italic", color="#222222", weight="normal"):
    annotations.append(dict(xref="paper", yref="paper", x=px(x), y=py(y),
                            xanchor=anchor, yanchor="middle", showarrow=False, text=s,
                            font=dict(family=CJK, size=size, color=color, style=style,
                                      weight=weight)))


# Titles and axis captions
for x0, tag in ((0, "ＮＳ"), (590, "ＥＷ")):
    text(x0 + 8, 19, "応答加速度", 13)
    text(x0 + 48, 39, "(㎝/sec2)", 13)
    text(x0 + 266, 15, f"加速度応答スペクトル（{tag}）", 19, anchor="center")
    text(x0 + 407, 16, "減衰定数h=0.05", 13)
    text(x0 + 289, 392, "周期 (sec)", 14, anchor="center")

for x0, tag in ((0, "ＮＳ"), (640, "ＥＷ")):
    text(x0 + 106, 457, "応答速度", 15)
    text(x0 + 151, 479, "(㎝/sec)", 15)
    text(x0 + 378, 453, f"速度応答スペクトル（{tag}）", 20.5, anchor="center")
    text(x0 + 542, 454, "減衰定数h=0.05", 15)
    text(x0 + 412, 866, "周期 (sec)", 15, anchor="center")

# Curve labels on the velocity spectra
curve_labels_ns = [
    (0.769, 356, "日野NS", False), (0.742, 238, "JMA  KOBE", True), (6.42, 206, "KAIHOKU", True),
    (0.278, 127, "伯太NS", False), (1.416, 110, "米子NS", False), (8.43, 80, "日南NS", False),
    (2.44, 27, "仁多NS", False), (0.396, 7, "横田NS", False), (5.0, 5, "新見NS", False),
]
curve_labels_ew = [
    (0.84, 324, "日野EW", False), (0.718, 235, "JMA  KOBE", True), (1.29, 198, "米子EW", False),
    (4.4, 211, "KAIHOKU", True), (0.2, 118, "新見EW", False), (0.585, 84, "日南EW", False),
    (2.75, 74, "伯太EW", False), (0.366, 33, "仁多EW", False), (7.66, 23, "横田EW", False),
]
for xa, ya, labels in (("x3", "y3", curve_labels_ns), ("x4", "y4", curve_labels_ew)):
    for t, v, s, bold in labels:
        annotations.append(dict(xref=xa, yref=ya, x=math.log10(t), y=v,
                                xanchor="center", yanchor="middle", showarrow=False, text=s,
                                font=dict(family=CJK, size=12,
                                          color="#000000" if bold else "#333333",
                                          weight="bold" if bold else "normal")))

fig.update_layout(annotations=annotations)
fig.write_html("out.html")
